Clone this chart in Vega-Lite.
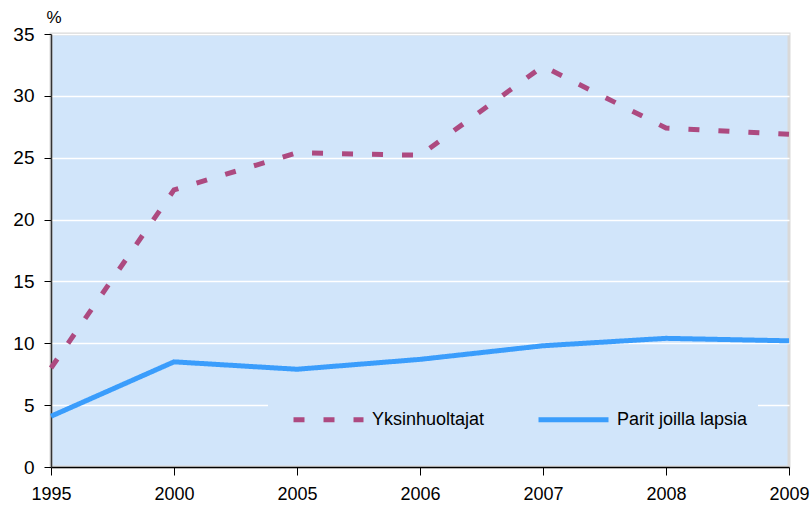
{
  "$schema": "https://vega.github.io/schema/vega-lite/v6.json",
  "autosize": {"type": "none"},
  "padding": {"left": 51, "top": 34, "right": 22, "bottom": 46},
  "width": 738,
  "height": 433,
  "background": "#ffffff",
  "config": {
    "font": "Liberation Sans",
    "view": {"fill": "#D1E5FA", "stroke": "#D9D9D9", "strokeWidth": 3}
  },
  "data": {
    "values": [
      {"year": "1995", "series": "Yksinhuoltajat", "value": 8.0},
      {"year": "2000", "series": "Yksinhuoltajat", "value": 22.4},
      {"year": "2005", "series": "Yksinhuoltajat", "value": 25.4},
      {"year": "2006", "series": "Yksinhuoltajat", "value": 25.2},
      {"year": "2007", "series": "Yksinhuoltajat", "value": 32.4},
      {"year": "2008", "series": "Yksinhuoltajat", "value": 27.4},
      {"year": "2009", "series": "Yksinhuoltajat", "value": 26.9},
      {"year": "1995", "series": "Parit joilla lapsia", "value": 4.1},
      {"year": "2000", "series": "Parit joilla lapsia", "value": 8.5},
      {"year": "2005", "series": "Parit joilla lapsia", "value": 7.9},
      {"year": "2006", "series": "Parit joilla lapsia", "value": 8.7},
      {"year": "2007", "series": "Parit joilla lapsia", "value": 9.8},
      {"year": "2008", "series": "Parit joilla lapsia", "value": 10.4},
      {"year": "2009", "series": "Parit joilla lapsia", "value": 10.2}
    ]
  },
  "mark": {"type": "line", "strokeWidth": 5, "strokeCap": "butt", "strokeJoin": "miter"},
  "encoding": {
    "x": {
      "field": "year",
      "type": "ordinal",
      "scale": {"type": "point", "padding": 0},
      "axis": {
        "title": null,
        "labelAngle": 0,
        "labelFontSize": 18,
        "labelColor": "#000000",
        "labelPadding": 10,
        "tickSize": 8,
        "tickColor": "#000000",
        "domainColor": "#000000",
        "domainWidth": 1.5,
        "grid": false
      }
    },
    "y": {
      "field": "value",
      "type": "quantitative",
      "scale": {"domain": [0, 35], "nice": false},
      "axis": {
        "values": [0, 5, 10, 15, 20, 25, 30, 35],
        "title": "%",
        "titleAngle": 0,
        "titleAlign": "left",
        "titleBaseline": "alphabetic",
        "titleX": -5,
        "titleY": -12,
        "titleFontSize": 17,
        "titleFontWeight": "normal",
        "titleColor": "#000000",
        "labelFontSize": 19,
        "labelColor": "#000000",
        "labelPadding": 10,
        "tickSize": 7,
        "tickColor": "#000000",
        "domainColor": "#333333",
        "domainWidth": 1.5,
        "gridColor": "#ffffff",
        "gridWidth": 1.5,
        "gridOpacity": 1
      }
    },
    "color": {
      "field": "series",
      "type": "nominal",
      "scale": {"domain": ["Yksinhuoltajat", "Parit joilla lapsia"], "range": ["#AD4A80", "#3A9DFC"]},
      "legend": {
        "title": null,
        "orient": "none",
        "direction": "horizontal",
        "legendX": 217,
        "legendY": 338,
        "fillColor": "#D1E5FA",
        "padding": 10,
        "symbolOffset": 13,
        "symbolType": "stroke",
        "symbolSize": 4900,
        "symbolStrokeWidth": 5,
        "labelFontSize": 18,
        "labelColor": "#000000",
        "labelOffset": 6,
        "columnPadding": 38
      }
    },
    "strokeDash": {
      "field": "series",
      "type": "nominal",
      "scale": {"domain": ["Yksinhuoltajat", "Parit joilla lapsia"], "range": [[11, 19], [1, 0]]},
      "legend": null
    }
  }
}
